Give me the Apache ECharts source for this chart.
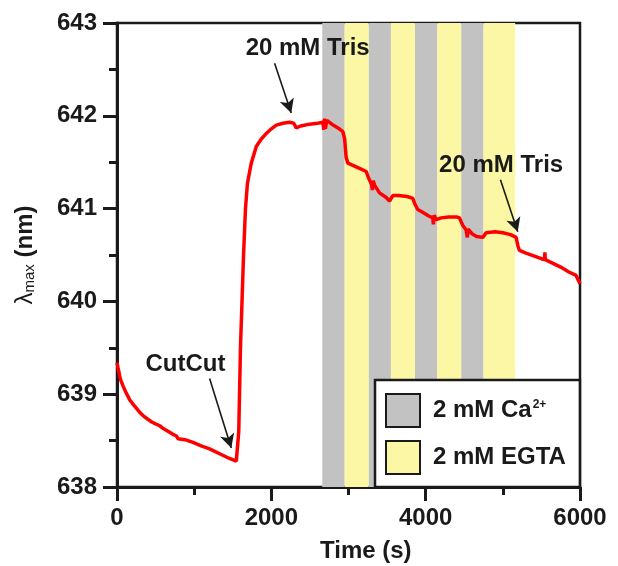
<!DOCTYPE html>
<html>
<head>
<meta charset="utf-8">
<script src="https://cdn.jsdelivr.net/npm/echarts@6/dist/echarts.min.js"></script>
<style>
  html, body { margin: 0; padding: 0; background: #fff; }
  #chart { width: 618px; height: 566px; }
</style>
</head>
<body>
<div id="chart"></div>
<script>
var timeS = [0, 12, 25, 35, 50, 78, 110, 164, 210, 250, 300, 337, 400, 450, 500, 553, 600, 660, 720, 769, 790, 880,
   984, 1100, 1200, 1350, 1450, 1546, 1570,
   1578, 1600, 1620, 1640, 1665, 1690, 1740, 1805, 1870, 1935, 2000, 2064, 2150, 2237, 2290, 2323, 2380, 2495, 2600,
   2668, 2680, 2690, 2700, 2720, 2800, 2880, 2927, 2950, 2970, 2992, 3100, 3230, 3260, 3300, 3310, 3320, 3340,
   3402, 3489, 3532, 3574, 3650, 3760, 3833, 3860, 3898, 3920, 3960, 4040, 4092, 4100, 4110, 4136, 4200, 4300,
   4400, 4438, 4480, 4525, 4540, 4550, 4600, 4660, 4740, 4784, 4900, 5000, 5100, 5172, 5195, 5215, 5300, 5400,
   5500, 5540, 5545, 5550, 5650, 5750, 5850, 5949, 5983, 6000];
var lambdaMax = [639.34, 639.29, 639.24, 639.19, 639.15, 639.09, 639.03, 638.94, 638.89, 638.85, 638.8, 638.77,
   638.73, 638.7, 638.68, 638.66, 638.63, 638.6, 638.57, 638.55, 638.52, 638.51, 638.48,
   638.44, 638.41, 638.35, 638.31, 638.28, 638.27,
   638.6, 639.5, 640.0, 640.5, 641.0, 641.27, 641.49, 641.67, 641.75, 641.81, 641.86, 641.9, 641.92, 641.93, 641.92,
   641.87, 641.89, 641.91, 641.92,
   641.93, 641.85, 641.97, 641.86, 641.95, 641.9, 641.86, 641.83, 641.75, 641.55, 641.49, 641.45, 641.4, 641.33,
   641.26, 641.2, 641.3, 641.25,
   641.17, 641.12, 641.08, 641.14, 641.14, 641.13, 641.11, 641.05, 640.99, 641.0, 640.96, 640.92, 640.9, 640.83,
   640.93, 640.88, 640.9, 640.91,
   640.91, 640.9, 640.82, 640.77, 640.69, 640.78, 640.73, 640.7, 640.69, 640.74, 640.75, 640.74, 640.72, 640.69,
   640.6, 640.55, 640.52, 640.49,
   640.46, 640.45, 640.53, 640.45, 640.41, 640.37, 640.32, 640.28, 640.22, 640.19];

// 溶液切换的时间段
var caStart = [2660, 3260, 3860, 4460];
var caEnd = [2950, 3550, 4150, 4750];
var egtaStart = [2950, 3550, 4150, 4750];
var egtaEnd = [3260, 3860, 4460, 5160];

var xTicks = [0, 2000, 4000, 6000];
var yTicks = [638, 639, 640, 641, 642, 643];

// 注释文字和箭头（数据坐标）
var noteText = ["20 mM Tris", "20 mM Tris", "CutCut"];
var notePos = [[2471, 642.73], [4978, 641.47], [887, 639.32]];
var arrowFrom = [[2042, 642.567], [4969, 641.31], [1200, 639.17]];
var arrowTo = [[2258, 642.03], [5193, 640.75], [1481, 638.42]];

var font = "Liberation Sans";
var ink = "#1a1a1a";
var grayC = "#c2c2c2";
var yellowC = "#fcf7a4";

var curve = timeS.map(function (t, i) { return [t, lambdaMax[i]]; });

function bands(starts, ends) {
   return starts.map(function (s, i) {
      return [{xAxis: s}, {xAxis: ends[i]}];
   });
}

var chart = echarts.init(document.getElementById("chart"));
var option = {
   animation: false,
   textStyle: {fontFamily: font},
   grid: {
      left: 117, right: 38, top: 23, bottom: 79,
      show: true, borderColor: ink, borderWidth: 2.5, backgroundColor: "transparent"
   },
   xAxis: {
      type: "value", min: xTicks[0], max: xTicks[xTicks.length - 1], interval: 2000,
      axisLine: {lineStyle: {color: ink, width: 3}},
      axisTick: {length: 14, lineStyle: {color: ink, width: 3}},
      minorTick: {show: true, splitNumber: 2, length: 8, lineStyle: {color: ink, width: 3}},
      splitLine: {show: false},
      axisLabel: {
         color: ink, fontSize: 24, fontWeight: "bold", margin: 19, fontFamily: font,
         formatter: function (v) { return String(v); }
      }
   },
   yAxis: {
      type: "value", min: yTicks[0], max: yTicks[yTicks.length - 1], interval: 1,
      axisLine: {lineStyle: {color: ink, width: 3}},
      axisTick: {length: 14, lineStyle: {color: ink, width: 3}},
      minorTick: {show: true, splitNumber: 2, length: 8, lineStyle: {color: ink, width: 3}},
      splitLine: {show: false},
      axisLabel: {
         color: ink, fontSize: 24, fontWeight: "bold", margin: 20, fontFamily: font,
         formatter: function (v) { return String(v); }
      },
      name: "{l|λ}{s|max}{b| (nm)}",
      nameLocation: "middle",
      nameRotate: 90,
      nameGap: 80,
      nameTextStyle: {
         rich: {
            l: {fontSize: 24, color: ink, fontFamily: font},
            s: {fontSize: 15, color: ink, fontFamily: font, verticalAlign: "bottom", padding: [8, 0, 0, 0]},
            b: {fontSize: 24, fontWeight: "bold", color: ink, fontFamily: font}
         }
      }
   },
   legend: {
      orient: "vertical",
      left: 375, top: 380,
      padding: [13, 14, 12, 10],
      itemGap: 12,
      itemWidth: 34,
      itemHeight: 33,
      backgroundColor: "#fff",
      borderColor: ink,
      borderWidth: 2.5,
      borderRadius: 0,
      selectedMode: false,
      data: [
         {name: "2 mM Ca", icon: "rect", itemStyle: {color: grayC, borderColor: ink, borderWidth: 2}},
         {name: "2 mM EGTA", icon: "rect", itemStyle: {color: yellowC, borderColor: ink, borderWidth: 2}}
      ],
      formatter: function (name) {
         return name === "2 mM Ca" ? "{t|2 mM Ca}{p|2+}" : "{t|2 mM EGTA}";
      },
      textStyle: {
         padding: [0, 0, 0, 8],
         rich: {
            t: {fontSize: 24, fontWeight: "bold", color: ink, fontFamily: font},
            p: {fontSize: 12, fontWeight: "bold", color: ink, fontFamily: font, verticalAlign: "top", padding: [0, 0, 12, 1]}
         }
      }
   },
   graphic: [{
      type: "text", left: 320, top: 539,
      style: {text: "Time (s)", fontSize: 24, fontWeight: "bold", fill: ink, fontFamily: font}
   }],
   series: [{
      name: "2 mM Ca", type: "line", data: [], z: 1,
      itemStyle: {color: grayC},
      markArea: {silent: true, itemStyle: {color: grayC}, data: bands(caStart, caEnd)}
   }, {
      name: "2 mM EGTA", type: "line", data: [], z: 1,
      itemStyle: {color: yellowC},
      markArea: {silent: true, itemStyle: {color: yellowC}, data: bands(egtaStart, egtaEnd)}
   }, {
      name: "lambda", type: "line", data: curve, z: 5,
      showSymbol: false, symbol: "none", smooth: false,
      lineStyle: {color: "#ff0000", width: 3.5},
      markLine: {
         silent: true,
         symbol: ["none", "arrow"],
         symbolSize: [11, 14],
         label: {show: false},
         lineStyle: {color: ink, width: 1.6, type: "solid"},
         data: arrowFrom.map(function (p, i) {
            return [{coord: p}, {coord: arrowTo[i]}];
         })
      },
      markPoint: {
         silent: true,
         symbol: "circle",
         symbolSize: 0,
         label: {
            show: true, position: "inside", color: ink, fontSize: 24, fontWeight: "bold", fontFamily: font,
            formatter: function (p) { return p.name; }
         },
         data: notePos.map(function (p, i) {
            return {name: noteText[i], coord: p};
         })
      }
   }]
};
chart.setOption(option);
</script>
</body>
</html>
